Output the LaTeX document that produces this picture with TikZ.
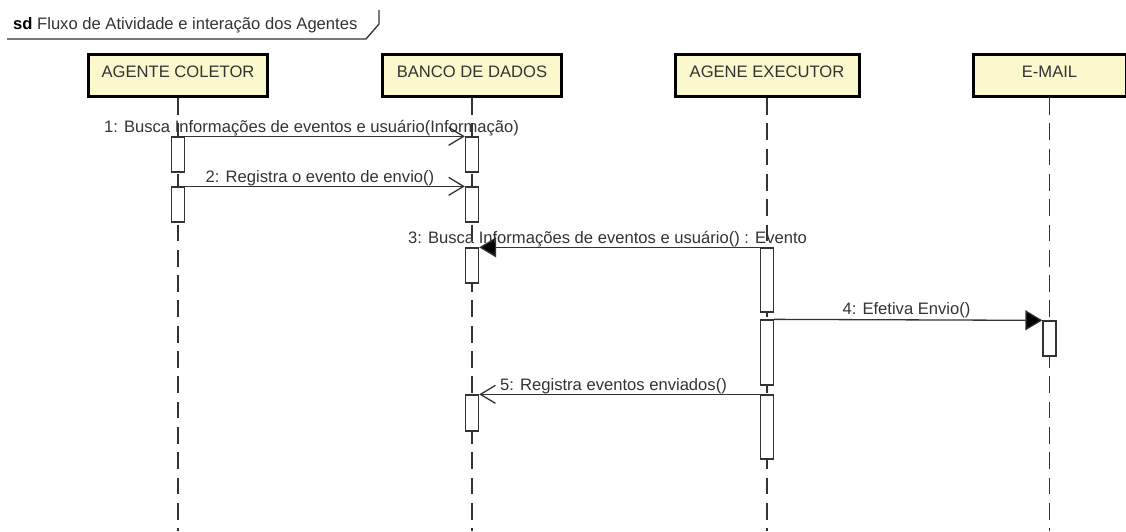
\documentclass[tikz,border=0pt]{standalone}
\usepackage{fontspec}
\setmainfont{Liberation Sans}
\usetikzlibrary{arrows.meta}
\definecolor{headfill}{RGB}{251,248,206}
\definecolor{ink}{RGB}{51,51,51}
\tikzset{
  txt/.style={font=\fontsize{16.6}{19}\selectfont, text=ink},
  head/.style={txt, draw=black, line width=3pt, fill=headfill, inner sep=0pt,
    text height=22.5pt, text depth=19.5pt, anchor=base},
  lifeline/.style={draw=ink, line width=1.3pt, dash pattern=on 16.8pt off 8.5pt},
  act/.style={draw=ink, fill=white, line width=1.3pt, minimum width=13pt, inner sep=0pt},
  syncmsg/.style={draw=ink, line width=1.3pt, -{Triangle[length=17pt,width=20pt,fill=black]}},
  asyncmsg/.style={draw=ink, line width=1.3pt, -{Straight Barb[length=15pt,width=18pt]}},
  msglabel/.style={txt, anchor=base, inner sep=0pt},
}
\begin{document}
\begin{tikzpicture}[x=1pt,y=-1pt]
\useasboundingbox (0,0) rectangle (1126,531);

% frame name tab
\draw[ink, line width=1.3pt] (7,39) -- (366,39) -- (379,24) -- (379,10);
\node[txt, anchor=base west, inner sep=0pt] (sdname) at (13,29)
  {\textcolor{black}{\textbf{sd}} Fluxo de Atividade e interação dos Agentes};

% participants
\node[head, minimum width=179pt] (col) at (178,77) {AGENTE COLETOR};
\node[head, minimum width=179pt] (bd)  at (472,77) {BANCO DE DADOS};
\node[head, minimum width=184pt] (exe) at (767,77) {AGENE EXECUTOR};
\node[head, minimum width=153pt] (mail) at (1049.5,77) {E-MAIL};

% lifelines
\coordinate (colEnd)  at (178,531);
\coordinate (bdEnd)   at (472,531);
\coordinate (exeEnd)  at (767,531);
\coordinate (mailEnd) at (1049.5,531);
\draw[lifeline] (col.south)  -- (colEnd);
\draw[lifeline] (bd.south)   -- (bdEnd);
\draw[lifeline] (exe.south)  -- (exeEnd);
\draw[lifeline] (mail.south) -- (mailEnd);

% activation bars
\node[act, minimum height=35pt] (c1) at (178,154.5) {};
\node[act, minimum height=35pt] (c2) at (178,204.5) {};
\node[act, minimum height=35pt] (b1) at (472,154.5) {};
\node[act, minimum height=35pt] (b2) at (472,204.5) {};
\node[act, minimum height=35pt] (b3) at (472,265.5) {};
\node[act, minimum height=36pt] (b4) at (472,413) {};
\node[act, minimum height=64pt] (e1) at (767,280) {};
\node[act, minimum height=65pt] (e2) at (767,352.5) {};
\node[act, minimum height=64pt] (e3) at (767,427) {};
\node[act, minimum height=35pt] (m1) at (1049.5,338.5) {};

% messages
\draw[asyncmsg] (c1.north east) -- (b1.north west);
\draw[asyncmsg] (c2.north east) -- (b2.north west);
\draw[syncmsg]  (e1.north west) -- (b3.north east);
\draw[syncmsg]  (e2.north east) -- (m1.north west);
\draw[asyncmsg] (e3.north west) -- (b4.north east);

% message labels
\node[msglabel] (l1) at (311.5,132) {1: Busca Informações de eventos e usuário(Informação)};
\node[msglabel] (l2) at (320,182) {2: Registra o evento de envio()};
\node[msglabel] (l3) at (607.5,243) {3: Busca Informações de eventos e usuário() : Evento};
\node[msglabel] (l4) at (906.5,314) {4: Efetiva Envio()};
\node[msglabel] (l5) at (613.5,390) {5: Registra eventos enviados()};
\end{tikzpicture}
\end{document}
